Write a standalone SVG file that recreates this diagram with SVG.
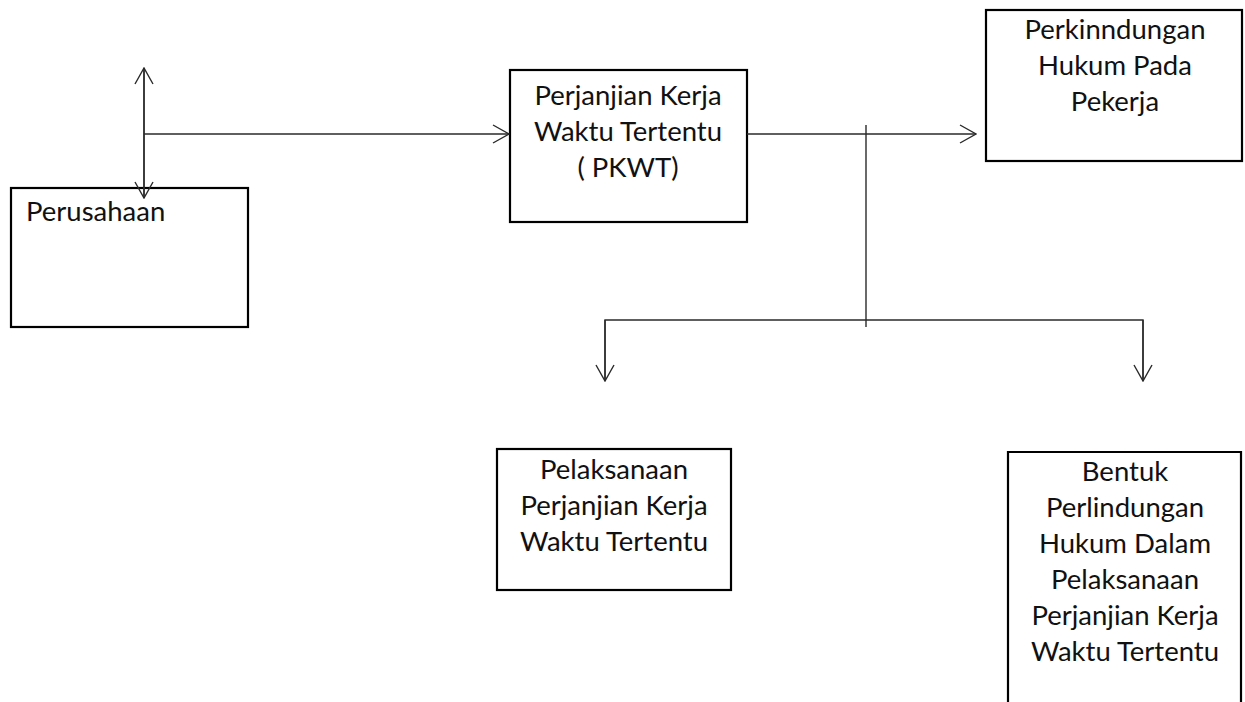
<svg xmlns="http://www.w3.org/2000/svg" width="1245" height="702" viewBox="0 0 1245 702">
<defs>
<style>
.box{fill:#fff;stroke:#000;stroke-width:2.2}
.t{font-family:Lato,"Open Sans","Liberation Sans",sans-serif;font-size:27.5px;fill:#111;text-anchor:middle}
.c{fill:none;stroke:#2a2a2a;stroke-width:1.4}
</style>
<marker id="ah" viewBox="-17 -10 18 20" refX="0" refY="0" markerWidth="18" markerHeight="20" markerUnits="userSpaceOnUse" orient="auto">
<path d="M-16,-9 L0,0 L-16,9" fill="none" stroke="#2a2a2a" stroke-width="1.4"/>
</marker>
</defs>
<rect width="1245" height="702" fill="#fff"/>
<g id="n-perusahaan">
<rect class="box" x="11" y="188" width="237" height="139"/>
<text class="t" x="26" y="221" style="text-anchor:start">Perusahaan</text>
</g>
<g id="n-pkwt">
<rect class="box" x="510" y="70" width="237" height="152"/>
<text class="t" x="628" y="105">Perjanjian Kerja</text>
<text class="t" x="628" y="141">Waktu Tertentu</text>
<text class="t" x="628" y="177">( PKWT)</text>
</g>
<g id="n-perlindungan">
<rect class="box" x="986" y="10" width="256" height="151"/>
<text class="t" x="1115" y="39">Perkinndungan</text>
<text class="t" x="1115" y="75">Hukum Pada</text>
<text class="t" x="1115" y="111">Pekerja</text>
</g>
<g id="n-pelaksanaan">
<rect class="box" x="497" y="449" width="234" height="141"/>
<text class="t" x="614" y="479">Pelaksanaan</text>
<text class="t" x="614" y="515">Perjanjian Kerja</text>
<text class="t" x="614" y="551">Waktu Tertentu</text>
</g>
<g id="n-bentuk">
<path class="box" d="M1008,712 L1008,452 L1241,452 L1241,712"/>
<text class="t" x="1125" y="481">Bentuk</text>
<text class="t" x="1125" y="517">Perlindungan</text>
<text class="t" x="1125" y="553">Hukum Dalam</text>
<text class="t" x="1125" y="589">Pelaksanaan</text>
<text class="t" x="1125" y="625">Perjanjian Kerja</text>
<text class="t" x="1125" y="661">Waktu Tertentu</text>
</g>
<g id="connectors">
<line class="c" x1="144" y1="198" x2="144" y2="68" marker-end="url(#ah)"/>
<line class="c" x1="144" y1="68" x2="144" y2="198" marker-end="url(#ah)"/>
<line class="c" x1="144" y1="134" x2="509" y2="134" marker-end="url(#ah)"/>
<line class="c" x1="747" y1="134" x2="976" y2="134" marker-end="url(#ah)"/>
<line class="c" x1="866" y1="125" x2="866" y2="327"/>
<polyline class="c" points="605,381 605,320 1143,320 1143,381"/>
<line class="c" x1="605" y1="320" x2="605" y2="381" marker-end="url(#ah)"/>
<line class="c" x1="1143" y1="320" x2="1143" y2="381" marker-end="url(#ah)"/>
</g>
</svg>
